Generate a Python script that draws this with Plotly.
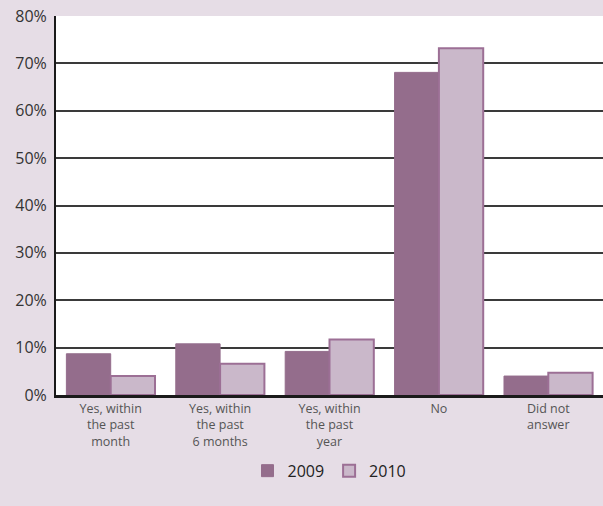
import plotly.graph_objects as go

categories = ["Yes, within<br>the past<br>month", "Yes, within<br>the past<br>6 months",
              "Yes, within<br>the past<br>year", "No", "Did not<br>answer"]
values_2009 = [8.7, 10.8, 9.2, 68.1, 4.0]
values_2010 = [4.0, 6.6, 11.7, 73.2, 4.7]
tick_vals = [0, 10, 20, 30, 40, 50, 60, 70, 80]
tick_text = ["0%", "10%", "20%", "30%", "40%", "50%", "60%", "70%", "80%"]

fig = go.Figure()
fig.add_trace(go.Bar(name="2009", x=categories, y=values_2009,
                     marker=dict(color="#946d8c", line=dict(color="#946d8c", width=1))))
fig.add_trace(go.Bar(name="2010", x=categories, y=values_2010,
                     marker=dict(color="#cab8ca", line=dict(color="#9c6f95", width=2))))

fig.update_layout(
    width=603, height=506,
    paper_bgcolor="#e6dde6", plot_bgcolor="#ffffff",
    margin=dict(l=56, r=0, t=16, b=111),
    barmode="group", bargap=0.19, bargroupgap=0,
    font=dict(family="Open Sans, Liberation Sans, sans-serif", color="#333333"),
    showlegend=True,
    legend=dict(orientation="h", x=0.5, xanchor="center", y=-0.155, yanchor="top",
                font=dict(size=16, color="#222222"), itemwidth=30,
                traceorder="normal", bgcolor="rgba(0,0,0,0)"),
)
fig.update_xaxes(showline=True, linecolor="#1a1a1a", linewidth=3,
                 tickfont=dict(size=12.5, color="#555555"), ticks="", showgrid=False)
fig.update_yaxes(range=[0, 80], tickvals=tick_vals, ticktext=tick_text,
                 showline=True, linecolor="#1a1a1a", linewidth=2,
                 showgrid=True, gridcolor="#3a3a3a", gridwidth=1.5,
                 tickfont=dict(size=16, color="#333333"), ticks="", ticklabelstandoff=4,
                 zeroline=False)

fig.write_html("out.html", config={"displayModeBar": False},
               post_script="document.body.style.margin='0';document.body.style.overflow='hidden';")
